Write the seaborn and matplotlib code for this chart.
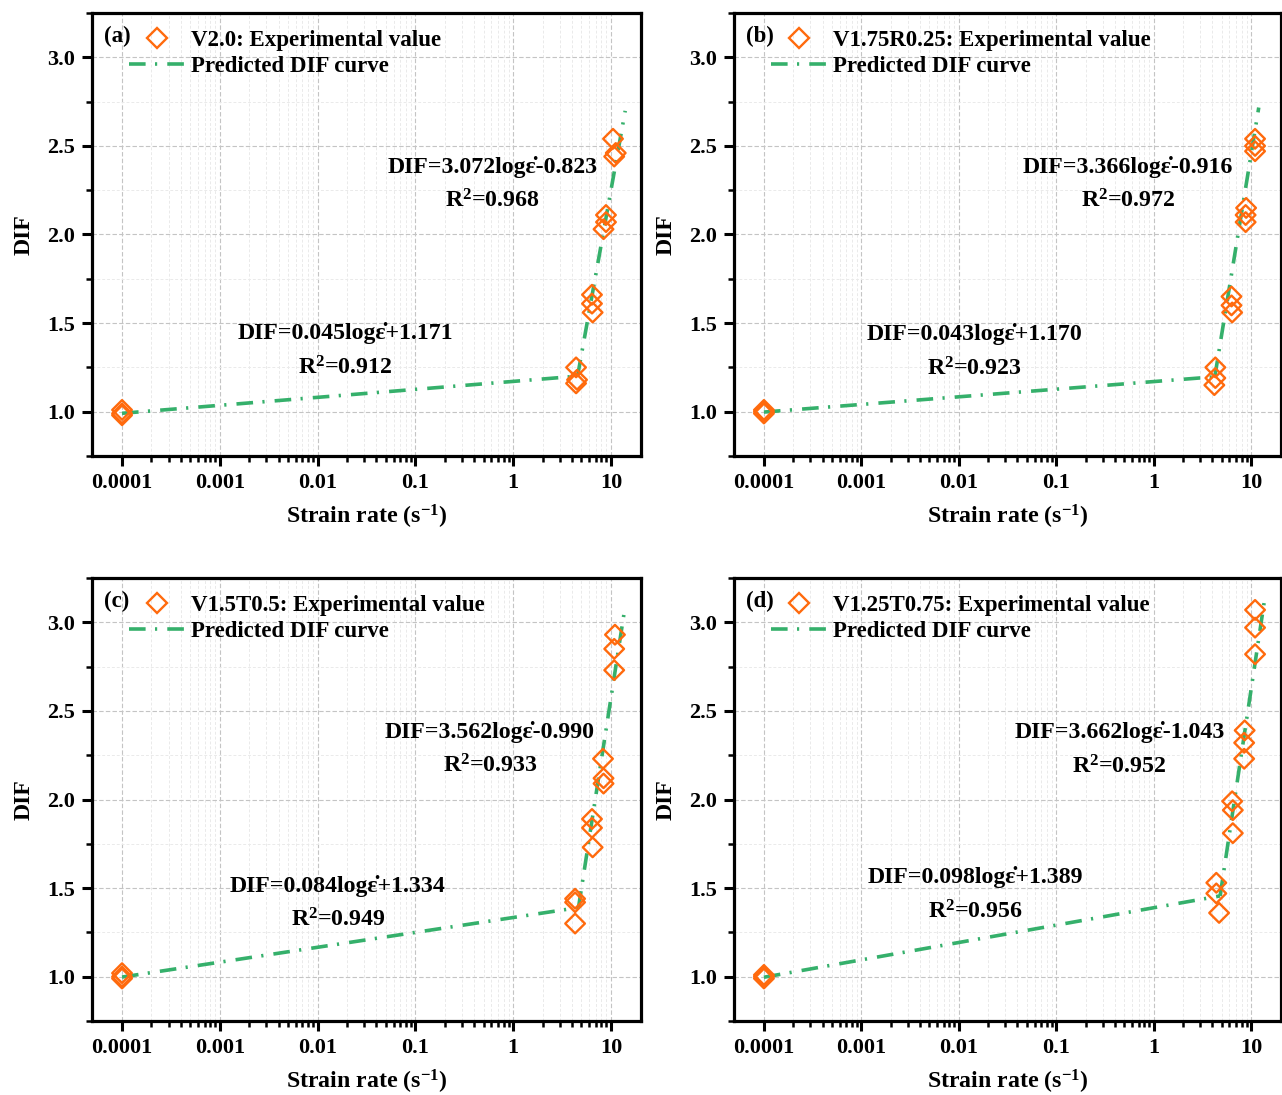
import numpy as np
import pandas as pd
import matplotlib
matplotlib.use("Agg")
import matplotlib.pyplot as plt
import seaborn as sns
from matplotlib.ticker import MultipleLocator, NullFormatter, FixedLocator, FixedFormatter
from matplotlib.lines import Line2D

# ---------------- data ----------------
panel_tags = ["(a)", "(b)", "(c)", "(d)"]
series_names = ["V2.0", "V1.75R0.25", "V1.5T0.5", "V1.25T0.75"]

x_a = [1e-4, 1e-4, 1e-4, 4.4, 4.5, 4.4, 6.4, 6.4, 6.5, 8.9, 8.9, 8.4, 10.5, 11.2, 10.8]
y_a = [1.01, 0.99, 0.98, 1.25, 1.18, 1.16, 1.66, 1.61, 1.56, 2.11, 2.07, 2.03, 2.54, 2.46, 2.44]

x_b = [1e-4, 1e-4, 1e-4, 4.3, 4.3, 4.2, 6.3, 6.3, 6.4, 8.9, 8.8, 8.8, 11.0, 11.0, 11.0]
y_b = [1.01, 1.00, 0.99, 1.25, 1.19, 1.15, 1.65, 1.60, 1.56, 2.15, 2.11, 2.07, 2.54, 2.50, 2.47]

x_c = [1e-4, 1e-4, 1e-4, 4.3, 4.3, 4.3, 6.4, 6.4, 6.5, 8.3, 8.4, 8.4, 11.0, 10.8, 10.8]
y_c = [1.02, 1.00, 0.99, 1.44, 1.42, 1.30, 1.89, 1.84, 1.73, 2.23, 2.12, 2.09, 2.93, 2.85, 2.73]

x_d = [1e-4, 1e-4, 1e-4, 4.4, 4.4, 4.7, 6.4, 6.5, 6.5, 8.6, 8.5, 8.5, 11.0, 11.0, 11.0]
y_d = [1.01, 1.00, 0.99, 1.53, 1.47, 1.36, 1.99, 1.94, 1.81, 2.39, 2.32, 2.23, 3.07, 2.97, 2.82]

slope_low = [0.045, 0.043, 0.084, 0.098]
icpt_low = [1.171, 1.170, 1.334, 1.389]
r2_low = [0.912, 0.923, 0.949, 0.956]
slope_high = [3.072, 3.366, 3.562, 3.662]
icpt_high = [-0.823, -0.916, -0.990, -1.043]
r2_high = [0.968, 0.972, 0.933, 0.952]
x_start = [1e-4, 1e-4, 1e-4, 1e-4]
x_end = [14.0, 12.0, 14.0, 14.0]

x_tick_vals = [1e-4, 1e-3, 1e-2, 1e-1, 1, 10]
x_tick_labels = ["0.0001", "0.001", "0.01", "0.1", "1", "10"]
y_tick_vals = [1.0, 1.5, 2.0, 2.5, 3.0]

xs = [x_a, x_b, x_c, x_d]
ys = [y_a, y_b, y_c, y_d]

# ---------------- style ----------------
sns.set_theme(style="ticks")
plt.rcParams["font.family"] = ["Liberation Serif", "DejaVu Serif"]
plt.rcParams["font.weight"] = "bold"
plt.rcParams["axes.labelweight"] = "bold"
plt.rcParams["text.color"] = "black"
plt.rcParams["axes.labelcolor"] = "black"
plt.rcParams["xtick.color"] = "black"
plt.rcParams["ytick.color"] = "black"
plt.rcParams["mathtext.fontset"] = "custom"
plt.rcParams["mathtext.rm"] = "Liberation Serif:bold"
plt.rcParams["mathtext.it"] = "Liberation Serif:bold"
plt.rcParams["mathtext.bf"] = "Liberation Serif:bold"

ORANGE = "#FF6A0D"
GREEN = "#35B06B"
FS_TICK = 16
FS_LEG = 16.5
FS_EQ = 17.2
FS_LAB = 17.2
LW = 2.6
DASH = (0, (4.6, 2.6, 0.6, 2.8))

fig = plt.figure(figsize=(12.82, 10.95), dpi=100)
W, H = 1282, 1095
boxes = [(92, 13, 641, 456), (734, 13, 1281, 456), (92, 578, 641, 1021), (734, 578, 1281, 1021)]

# annotation layout (axes fraction)
hi_pos = [(0.729, 0.652, 0.576), (0.720, 0.652, 0.576), (0.725, 0.652, 0.576), (0.705, 0.652, 0.573)]
lo_pos = [(0.461, 0.278, 0.199), (0.439, 0.275, 0.196), (0.448, 0.305, 0.228), (0.441, 0.325, 0.246)]

minor_x = [m * 10.0 ** e for e in range(-4, 1) for m in range(2, 10)]

for i in range(4):
    l, t, r, b = boxes[i]
    ax = fig.add_axes([l / W, (H - b) / H, (r - l) / W, (b - t) / H])

    df = pd.DataFrame({"x": xs[i], "y": ys[i]})
    # break point between the two fitted segments
    xb = 10 ** ((icpt_low[i] - icpt_high[i]) / (slope_high[i] - slope_low[i]))
    seg1 = pd.DataFrame({"x": [x_start[i], xb]})
    seg1["y"] = slope_low[i] * np.log10(seg1["x"]) + icpt_low[i]
    seg2 = pd.DataFrame({"x": [xb, x_end[i]]})
    seg2["y"] = slope_high[i] * np.log10(seg2["x"]) + icpt_high[i]

    ax.set_xscale("log")
    for seg in (seg1, seg2):
        sns.lineplot(data=seg, x="x", y="y", ax=ax, color=GREEN, lw=LW, linestyle=DASH, zorder=3)
    sns.scatterplot(data=df, x="x", y="y", ax=ax, marker="D", s=100, facecolor="none",
                    edgecolor=ORANGE, linewidth=1.7, zorder=4)

    ax.set_xlim(4.93e-5, 20.3)
    ax.set_ylim(0.75, 3.25)
    ax.xaxis.set_major_locator(FixedLocator(x_tick_vals))
    ax.xaxis.set_major_formatter(FixedFormatter(x_tick_labels))
    ax.xaxis.set_minor_locator(FixedLocator(minor_x))
    ax.xaxis.set_minor_formatter(NullFormatter())
    ax.yaxis.set_major_locator(FixedLocator(y_tick_vals))
    ax.yaxis.set_major_formatter(FixedFormatter([f"{v:.1f}" for v in y_tick_vals]))
    ax.yaxis.set_minor_locator(MultipleLocator(0.25))

    ax.grid(which="major", color="#c4c4c4", linestyle=(0, (4, 2)), linewidth=0.8)
    ax.grid(which="minor", color="#eaeaea", linestyle=(0, (3, 2)), linewidth=0.7)
    ax.set_axisbelow(True)

    for sp in ax.spines.values():
        sp.set_linewidth(2.3)
        sp.set_color("black")
    ax.tick_params(which="major", direction="out", length=7, width=2.2, labelsize=FS_TICK,
                   top=False, right=False, pad=5, colors="black")
    ax.tick_params(which="minor", direction="out", length=4, width=1.8, top=False, right=False,
                   colors="black")
    for lab in ax.get_xticklabels() + ax.get_yticklabels():
        lab.set_fontweight("bold")

    ax.set_xlabel(r"Strain rate (s$^{\mathrm{-1}}$)", fontsize=FS_LAB, fontweight="bold", labelpad=7)
    ax.set_ylabel("DIF", fontsize=FS_LAB, fontweight="bold", labelpad=9)

    # legend
    handles = [
        Line2D([], [], marker="D", ms=9.8, mfc="none", mec=ORANGE, mew=1.7, linestyle="none"),
        Line2D([], [], color=GREEN, lw=LW, linestyle=DASH),
    ]
    labels = [f"{series_names[i]}: Experimental value", "Predicted DIF curve"]
    leg = ax.legend(handles, labels, loc="upper left", bbox_to_anchor=(0.068, 0.962), frameon=False,
                    borderaxespad=0, borderpad=0, handlelength=2.4, handletextpad=0.3,
                    labelspacing=0.22, prop={"family": "Liberation Serif", "weight": "bold", "size": FS_LEG})
    for txt in leg.get_texts():
        txt.set_color("black")
    ax.text(0.022, 0.946, panel_tags[i], transform=ax.transAxes, fontsize=FS_LEG,
            fontweight="bold", ha="left", va="center", color="black")

    # fitted equations
    hx, hy, hry = hi_pos[i]
    ax.text(hx, hy, f"DIF={slope_high[i]:.3f}log\u03b5\u0307{icpt_high[i]:.3f}", transform=ax.transAxes,
            fontsize=FS_EQ, fontweight="bold", ha="center", va="center", color="black")
    ax.text(hx, hry, f"R$^{{\\mathrm{{2}}}}$={r2_high[i]:.3f}", transform=ax.transAxes,
            fontsize=FS_EQ, fontweight="bold", ha="center", va="center", color="black")
    lx, ly, lry = lo_pos[i]
    ax.text(lx, ly, f"DIF={slope_low[i]:.3f}log\u03b5\u0307+{icpt_low[i]:.3f}", transform=ax.transAxes,
            fontsize=FS_EQ, fontweight="bold", ha="center", va="center", color="black")
    ax.text(lx, lry, f"R$^{{\\mathrm{{2}}}}$={r2_low[i]:.3f}", transform=ax.transAxes,
            fontsize=FS_EQ, fontweight="bold", ha="center", va="center", color="black")

fig.savefig("out.png", dpi=100)
